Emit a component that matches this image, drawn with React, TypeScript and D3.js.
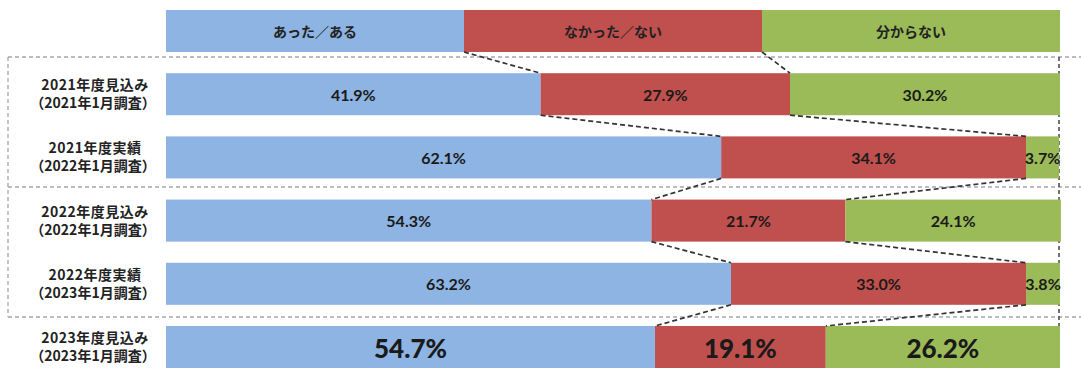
import React from "react";
import * as d3 from "d3";

const seriesNames = ["あった／ある", "なかった／ない", "分からない"];
const categoryLine1 = ["2021年度見込み", "2021年度実績", "2022年度見込み", "2022年度実績", "2023年度見込み"];
const categoryLine2 = ["（2021年1月調査）", "（2022年1月調査）", "（2022年1月調査）", "（2023年1月調査）", "（2023年1月調査）"];
const yesValues = [41.9, 62.1, 54.3, 63.2, 54.7];
const noValues = [27.9, 34.1, 21.7, 33.0, 19.1];
const unknownValues = [30.2, 3.7, 24.1, 3.8, 26.2];
const colors = ["#8db4e2", "#c0504d", "#9bbb59"];

const W = 1081;
const H = 368;

export default function App() {
  const x = d3.scaleLinear().domain([0, 100]).range([166, 1060]);
  const rowKeys = ["header", ...categoryLine1];
  const y = d3.scaleBand<string>().domain(rowKeys).range([10, 368]).paddingInner(0.335).paddingOuter(0);
  const bw = y.bandwidth();

  const rows = categoryLine1.map((c, i) => {
    const vals = [yesValues[i], noValues[i], unknownValues[i]];
    let acc = 0;
    const segs = vals.map((v, k) => {
      const s = { x0: acc, x1: acc + v, v, k };
      acc += v;
      return s;
    });
    return { key: c, segs, i };
  });

  const headerB = [100 / 3, 200 / 3];
  const bounds = [headerB, ...rows.map((r) => [r.segs[0].x1, r.segs[1].x1])];

  const boxTop = 57;
  const boxMid = 187;
  const boxBot = 317;
  const grey = "#a6a6a6";
  const jp = "'Noto Sans CJK JP', 'Noto Sans', sans-serif";
  const num = "Lato, 'Open Sans', sans-serif";

  const connectors: { x1: number; y1: number; x2: number; y2: number }[] = [];
  for (let r = 0; r < rowKeys.length - 1; r++) {
    const yTop = (y(rowKeys[r]) as number) + bw;
    const yBot = y(rowKeys[r + 1]) as number;
    for (let b = 0; b < 2; b++) {
      connectors.push({ x1: x(bounds[r][b]), y1: yTop, x2: x(bounds[r + 1][b]), y2: yBot });
    }
  }

  return (
    <svg width={W} height={H} style={{ position: "absolute", left: 0, top: 0, background: "#fff" }}>
      <g stroke={grey} strokeWidth={1.3} strokeDasharray="4,3" fill="none">
        <line x1={8} x2={W} y1={boxTop} y2={boxTop} />
        <line x1={8} x2={W} y1={boxMid} y2={boxMid} />
        <line x1={8} x2={W} y1={boxBot} y2={boxBot} />
        <line x1={8} x2={8} y1={boxTop} y2={boxBot} />
      </g>
      <line x1={1059} x2={1059} y1={boxTop} y2={y(rowKeys[5]) as number} stroke="#444" strokeWidth={1.5} strokeDasharray="4,3" />

      <g>
        {seriesNames.map((s, k) => (
          <g key={s}>
            <rect x={x((100 / 3) * k)} y={y("header")} width={x(100 / 3) - x(0)} height={bw} fill={colors[k]} />
            <text
              x={x((100 / 3) * k + 100 / 6)}
              y={(y("header") as number) + bw / 2}
              textAnchor="middle"
              dominantBaseline="central"
              fontFamily={jp}
              fontWeight={700}
              fontSize={14}
              fill="#222"
            >
              {s}
            </text>
          </g>
        ))}
      </g>

      {rows.map((r) => {
        const yy = y(r.key) as number;
        return (
          <g key={r.key}>
            {r.segs.map((s) => (
              <rect key={s.k} x={x(s.x0)} y={yy} width={x(s.x1) - x(s.x0)} height={bw} fill={colors[s.k]} />
            ))}
            <text x={95} y={yy + bw / 2 - 10} textAnchor="middle" dominantBaseline="central" fontFamily={jp} fontWeight={700} fontSize={14} letterSpacing={0.5} fill="#222">
              {categoryLine1[r.i]}
            </text>
            <text x={93} y={yy + bw / 2 + 8} textAnchor="middle" dominantBaseline="central" fontFamily={jp} fontWeight={700} fontSize={14} fill="#222">
              {categoryLine2[r.i]}
            </text>
          </g>
        );
      })}

      <g stroke="#333" strokeWidth={1.7} strokeDasharray="5,3" fill="none">
        {connectors.map((c, i) => (
          <line key={i} x1={c.x1} y1={c.y1} x2={c.x2} y2={c.y2} />
        ))}
      </g>

      {rows.map((r) => {
        const yy = y(r.key) as number;
        const big = r.i === 4;
        return (
          <g key={"l" + r.key}>
            {r.segs.map((s) => (
              <text
                key={s.k}
                x={x((s.x0 + s.x1) / 2)}
                y={yy + bw / 2 + (big ? 1 : 0)}
                textAnchor="middle"
                dominantBaseline="central"
                fontFamily={num}
                fontWeight={big ? 900 : 700}
                fontSize={big ? 26 : 16}
                fill="#1a1a1a"
              >
                {s.v.toFixed(1)}%
              </text>
            ))}
          </g>
        );
      })}
    </svg>
  );
}
